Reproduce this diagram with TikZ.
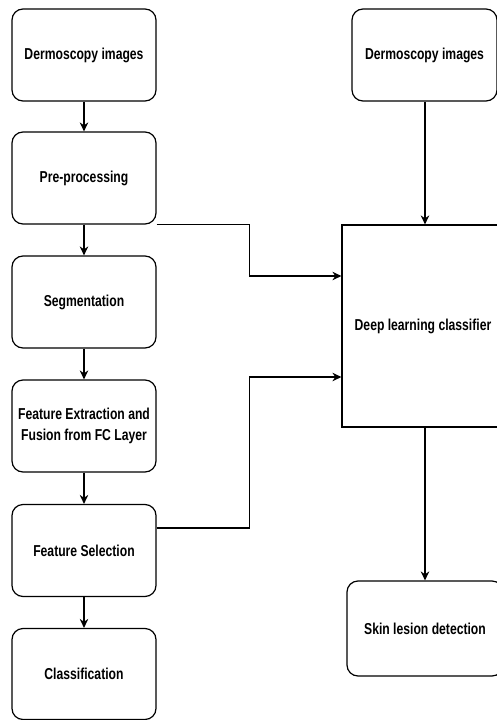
\documentclass[tikz,border=0pt]{standalone}
\usepackage{fontspec}
\setmainfont{Liberation Sans}[FakeStretch=0.77]
\usetikzlibrary{arrows.meta,calc}
\begin{document}
\begin{tikzpicture}[x=1pt,y=-1pt,
  lbl/.style={font=\fontsize{15.8}{21}\selectfont\bfseries, align=center},
  box/.style={draw, line width=1.2pt, rounded corners=11pt, minimum width=144pt, minimum height=92pt, inner sep=0pt, lbl},
  sqbox/.style={draw, line width=1.2pt, minimum width=168pt, minimum height=202pt, inner sep=0pt},
  arr/.style={line width=1.2pt, -{Stealth[length=9pt,width=8.5pt]}}]
\useasboundingbox (0,0) rectangle (497,720);
\clip (0,0) rectangle (497,720);
\node[box] (b1) at (84,55) {Dermoscopy images};
\node[box] (b2) at (84,178) {Pre-processing};
\node[box] (b3) at (84,302) {Segmentation};
\node[box] (b4) at (84,426) {Feature Extraction and\\Fusion from FC Layer};
\node[box] (b5) at (84,550.5) {Feature Selection};
\node[box, minimum height=91pt] (b6) at (84,674) {Classification};
\node[box, minimum width=145pt] (r1) at (424.5,55) {Dermoscopy images};
\node[sqbox] (dl) at (426,326) {};
\node[lbl] (dlt) at (423,326) {Deep learning classifier};
\node[box, minimum width=156pt, minimum height=95pt] (r3) at (425,628.5) {Skin lesion detection};
\draw[arr] (b1) -- (b2);
\draw[arr] (b2) -- (b3);
\draw[arr] (b3) -- (b4);
\draw[arr] (b4) -- (b5);
\draw[arr] (b5) -- (b6);
\draw[arr] (r1.south -| 425,0) -- (dl.north -| 425,0);
\draw[arr] (dl.south -| 425,0) -- (r3.north -| 425,0);
\draw[arr] (b2.south east) -- ++(93,0) |- ([yshift=50pt]dl.west);
\draw[arr] ([yshift=22.5pt]b5.east) -- ++(93,0) |- ([yshift=-51pt]dl.west);
\end{tikzpicture}
\end{document}
